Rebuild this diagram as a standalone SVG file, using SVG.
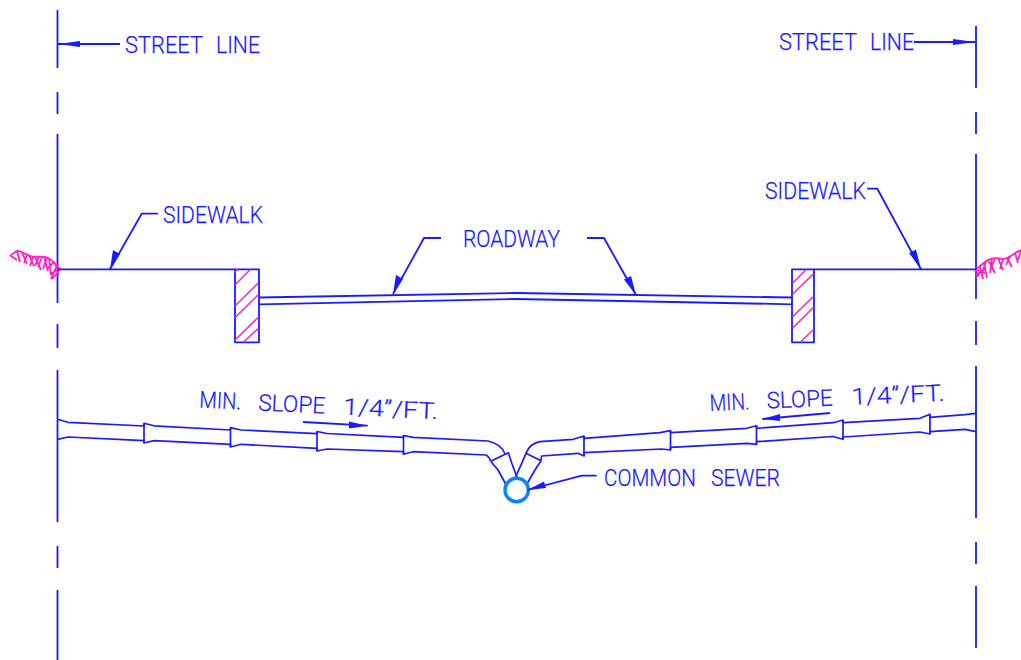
<svg xmlns="http://www.w3.org/2000/svg" width="1021" height="660" viewBox="0 0 1021 660">
<style>
.l{fill:none;stroke:#1a1aff;stroke-width:1.8;stroke-linejoin:round}
.p{fill:none;stroke:#1a1aff;stroke-width:1.7;stroke-linejoin:round}
.h{fill:none;stroke:#ff20c0;stroke-width:1.5}
.g{fill:none;stroke:#ff20c0;stroke-width:1.8}
.c{fill:none;stroke:#0a84f5;stroke-width:3.400}
.a{fill:#1a1aff;stroke:none}
text{font-family:"Roboto","Liberation Sans",sans-serif;font-weight:300;font-size:23px;fill:#1a1aff;stroke:#1a1aff;stroke-width:.25}
</style>
<rect width="1021" height="660" fill="#fff"/>
<g id="street-line-left">
<path class="l" d="M57.5 10V68M57.5 92V114M57.5 134V303M57.5 324V348M57.5 370V522M57.5 546V568M57.5 590V660"/>
</g>
<g id="street-line-right">
<path class="l" d="M976 26V88M976 112V134M976 154V299M976 321V345M976 366V518M976 542V564M976 586V648"/>
</g>
<g id="ground-left">
<path class="g" d="M17 250.700C24 252 28 256 33 256.700C38 257 43 256 47 257.500C53 260 57 265 60.700 270"/>
<path class="g" d="M10 256L17 250.700M11 256L17 260M17 251L20 262M22 252.500L27 264M27 255L24 263M29 255.500L34 266M33 257L30 266M35 257L41 270M39 257L35 266M42 257L38 267M44 257L48 271M47 258L43 269M49 258L51 275M54 262L47 269M55 263L59 274M57 265L51 279M60 269L50 274M60 270L52 279"/>
</g>
<g id="ground-right">
<path class="g" d="M1021 250.500C1014 252 1010 259 1003 259C998 258 992 257 988 260C983 263 978 267 975 272"/>
<path class="g" d="M1021 251L1018 260M1015 253L1018 263M1010 256L1006 265M1007 258L1012 267M1003 259L1000 269M998 258L1003 270M995 258L991 269M992 258L990 273M988 260L995 273M986 261L982 274M984 263L987 278M980 266L983 279M977 270L985 273M975 275L986 268M976 278L982 270"/>
</g>
<g id="sidewalk-left">
<path class="l" d="M57.500 269.300H259V342.300H235V269.300"/>
<path class="h" d="M235 271.700L238.300 269.300M235 285L250 269.800M235 306L258.500 282.800M235 317.700L258.500 294.500M235 340L258.500 317.200M244 341.800L258.500 328.200"/>
</g>
<g id="sidewalk-right">
<path class="l" d="M976 269.300H792V342.300H814V269.300"/>
<path class="h" d="M792.500 283.300L806 269.800M792.500 294.300L813.500 273.800M792.500 316.700L813.500 296.500M792.500 328.300L813.500 307.200M800.700 341.800L813.500 329.500"/>
</g>
<g id="roadway">
<path class="l" d="M259 297.500L516 293L792 297.500M259 304.300L516 299L792 304.300"/>
</g>
<g id="pipe-left">
<path class="p" d="M57.500 419.300L68 422.300L144 426V423.300L154 425.800L230.500 430V427.700L241 430L317 433.600V431.500L327 433.500L403.500 437.300V435.500L413 437.300L488 441C497 443 503 448 505 454"/>
<path class="p" d="M57.500 439.300L68 437L144 440.700V443L154 440.700L230.500 444.300V447L241 444.300L317 448.300V451L327 449L403.500 451.700V454.300L413 451.700L486 455C488 456 489.500 458 490.700 461"/>
<path class="p" d="M144 423.300V443M230.500 427.700V447M317 431.500V451M403.500 435.500V454.300"/>
<path class="p" d="M490.700 461.300L508.300 452.700L511.700 463L517.300 478.300M490.700 461.300L498 470L505.700 484"/>
</g>
<g id="pipe-right">
<path class="p" d="M976 413.300L965 414.700L930 417.300V414.300L920 418.300L843 422.700V420L833.300 422.700L756.500 428.300V425.700L746.700 428.300L670.500 432.700V430.700L660 432.700L584 438.300V436L573.300 439.300L540 441.700C533 443 528 448 526 453.300"/>
<path class="p" d="M976 431.700L965 429.300L930 431.700V434L920 432L843 437V439.300L833 436.500L756.500 441.700V444.300L746.700 443.300L670.500 447.300V450L661.700 449L584 452.700V456L578 453.300L541.700 456C541 457 541 459 541 460.700"/>
<path class="p" d="M843 420V439.300M756.500 425.700V444.300M670.500 430.700V450M584 436V456M930 414.300V434"/>
<path class="p" d="M541 460.700L526 453.300L521.700 463.300L515 478.300M541 460.700L535 470L527.300 483.300"/>
</g>
<g id="common-sewer">
<circle class="c" cx="516.700" cy="490" r="11.700"/>
</g>
<g id="connectors">
<path class="l" d="M58 44H120M914 42H975M158 213.700H141.700L110 269.300M867 188.700H877.300L921 269.300M441 238H424L393 294M587 238H604L636 295M596.700 475.700H581.700L527.300 490M303 422L367.700 425.700M830 413L762.300 419"/>
<path class="a" d="M58 44L80 41V47ZM975 42L953 39V45ZM110 269.300L113 250L120 254ZM921 269.300L909 253L916 249.500ZM393 294L396 275L403 279ZM636 295L624 279.500L631 276ZM527.300 490L544 481.500L546 488ZM367.700 425.700L349 421.500V428.500ZM762.300 419L780 414V421Z"/>
</g>
<g id="labels">
<text x="125" y="53" textLength="78" lengthAdjust="spacingAndGlyphs">STREET</text>
<text x="216" y="53" textLength="44" lengthAdjust="spacingAndGlyphs">LINE</text>
<text x="779" y="50" textLength="78" lengthAdjust="spacingAndGlyphs">STREET</text>
<text x="870" y="50" textLength="44" lengthAdjust="spacingAndGlyphs">LINE</text>
<text x="163" y="223" textLength="100" lengthAdjust="spacingAndGlyphs">SIDEWALK</text>
<text x="765" y="199" textLength="101" lengthAdjust="spacingAndGlyphs">SIDEWALK</text>
<text x="463" y="247" textLength="97" lengthAdjust="spacingAndGlyphs">ROADWAY</text>
<text x="604" y="486" textLength="92" lengthAdjust="spacingAndGlyphs">COMMON</text>
<text x="711" y="486" textLength="69" lengthAdjust="spacingAndGlyphs">SEWER</text>
<g transform="translate(199 407.500) rotate(2.800)">
<text x="0" y="0" textLength="42" lengthAdjust="spacingAndGlyphs">MIN.</text>
<text x="59" y="0" textLength="67" lengthAdjust="spacingAndGlyphs">SLOPE</text>
<text x="144" y="0" textLength="95" lengthAdjust="spacingAndGlyphs">1/4”/FT.</text>
</g>
<g transform="translate(710 411) rotate(-2.500)">
<text x="0" y="0" textLength="40" lengthAdjust="spacingAndGlyphs">MIN.</text>
<text x="57" y="0" textLength="66" lengthAdjust="spacingAndGlyphs">SLOPE</text>
<text x="142" y="0" textLength="93" lengthAdjust="spacingAndGlyphs">1/4”/FT.</text>
</g>
</g>
</svg>
